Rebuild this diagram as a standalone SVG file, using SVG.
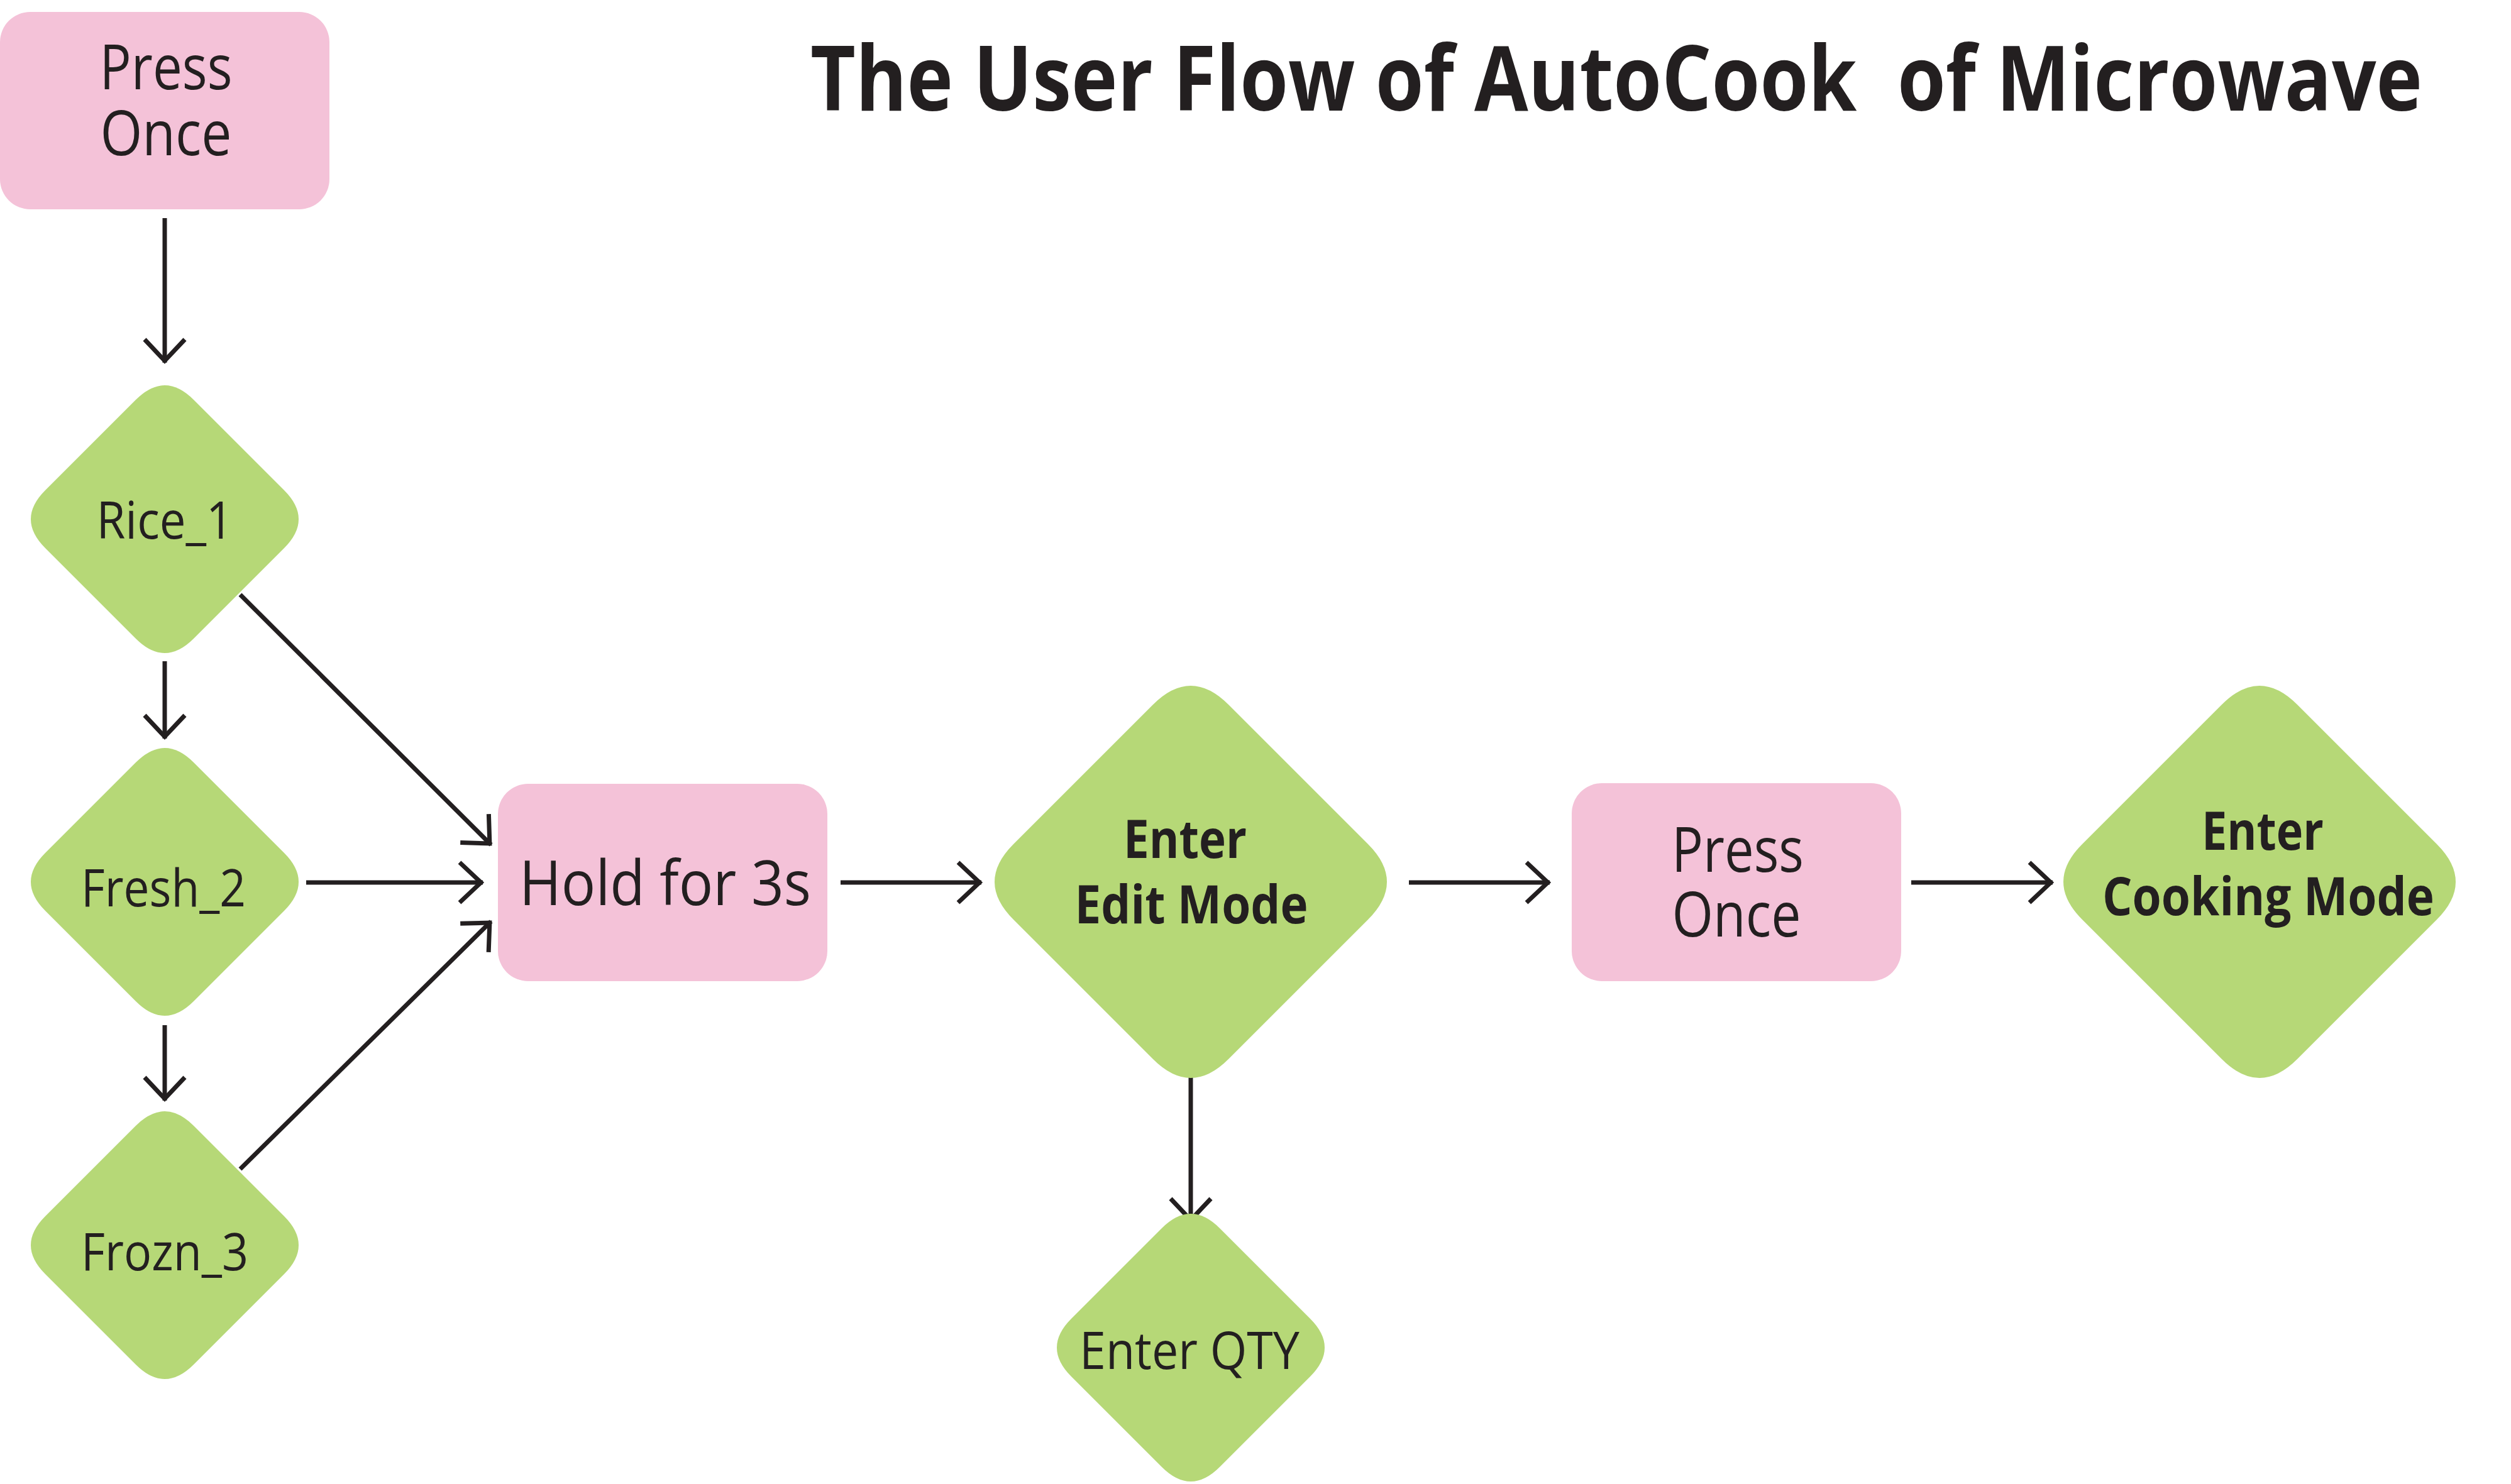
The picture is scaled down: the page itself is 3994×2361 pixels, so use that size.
<svg xmlns="http://www.w3.org/2000/svg" width="3994" height="2361" viewBox="0 0 3994 2361">
<style>
  .bg { fill: #FFFFFF; }
  .box { fill: #F4C2D8; }
  .dia { fill: #B6D877; }
  .t { font-family: "Open Sans", "Noto Sans", "Liberation Sans", sans-serif; fill: #231F20; text-anchor: middle; }
  .tb { font-weight: 700; }
  .conn { fill: none; stroke: #231F20; stroke-width: 7; marker-end: url(#ah); }
</style>
<defs>
  <marker id="ah" markerUnits="userSpaceOnUse" viewBox="-50 -45 60 90" refX="0" refY="0" markerWidth="60" markerHeight="90" orient="auto" overflow="visible">
    <path d="M-37,-32 L-3,0 L-37,32" fill="none" stroke="#231F20" stroke-width="7"/>
  </marker>
</defs>
<rect class="bg" x="0" y="0" width="3994" height="2361"/>

<g id="title">
  <text class="t tb" transform="translate(2571,176) scale(1,1.135)" x="0" y="0" font-size="126" textLength="2564" lengthAdjust="spacingAndGlyphs" xml:space="preserve">The User Flow of AutoCook  of Microwave</text>
</g>

<g id="connectors">
  <line class="conn" x1="262" y1="347" x2="262" y2="577"/>
  <line class="conn" x1="262" y1="1052" x2="262" y2="1175"/>
  <line class="conn" x1="262" y1="1631" x2="262" y2="1751"/>
  <line class="conn" x1="382" y1="946" x2="781" y2="1344"/>
  <line class="conn" x1="487" y1="1404" x2="768" y2="1404"/>
  <line class="conn" x1="382" y1="1860" x2="781" y2="1466"/>
  <line class="conn" x1="1337" y1="1404" x2="1561" y2="1404"/>
  <line class="conn" x1="2241" y1="1404" x2="2465" y2="1404"/>
  <line class="conn" x1="3040" y1="1404" x2="3265" y2="1404"/>
  <line class="conn" x1="1894" y1="1714" x2="1894" y2="1944"/>
</g>

<g id="press-once-1">
  <rect class="box" x="0" y="19" width="524" height="314" rx="48" ry="48"/>
  <text class="t" font-size="98"><tspan x="264" y="142" textLength="211" lengthAdjust="spacingAndGlyphs">Press</tspan><tspan x="264" y="247" textLength="209" lengthAdjust="spacingAndGlyphs">Once</tspan></text>
</g>

<g id="rice-1">
  <path class="dia" d="M216,636 Q262,590 308,636 L452,780 Q498,826 452,872 L308,1016 Q262,1062 216,1016 L72,872 Q26,826 72,780 Z"/>
  <text class="t" x="262" y="857" font-size="82" textLength="217" lengthAdjust="spacingAndGlyphs">Rice_1</text>
</g>

<g id="fresh-2">
  <path class="dia" d="M216,1213 Q262,1167 308,1213 L452,1357 Q498,1403 452,1449 L308,1593 Q262,1639 216,1593 L72,1449 Q26,1403 72,1357 Z"/>
  <text class="t" x="260" y="1442" font-size="82" textLength="262" lengthAdjust="spacingAndGlyphs">Fresh_2</text>
</g>

<g id="frozn-3">
  <path class="dia" d="M216,1791 Q262,1745 308,1791 L452,1935 Q498,1981 452,2027 L308,2171 Q262,2217 216,2171 L72,2027 Q26,1981 72,1935 Z"/>
  <text class="t" x="262" y="2021" font-size="82" textLength="266" lengthAdjust="spacingAndGlyphs">Frozn_3</text>
</g>

<g id="hold-3s">
  <rect class="box" x="792" y="1247" width="524" height="314" rx="48" ry="48"/>
  <text class="t" x="1058" y="1440" font-size="99" textLength="464" lengthAdjust="spacingAndGlyphs">Hold for 3s</text>
</g>

<g id="edit-mode">
  <path class="dia" d="M1834,1121 Q1894,1061 1954,1121 L2176,1343 Q2236,1403 2176,1463 L1954,1685 Q1894,1745 1834,1685 L1612,1463 Q1552,1403 1612,1343 Z"/>
  <text class="t tb" font-size="85"><tspan x="1885" y="1365" textLength="196" lengthAdjust="spacingAndGlyphs">Enter</tspan><tspan x="1895" y="1469" textLength="371" lengthAdjust="spacingAndGlyphs">Edit Mode</tspan></text>
</g>

<g id="enter-qty">
  <path class="dia" d="M1848,1954 Q1894,1908 1940,1954 L2084,2098 Q2130,2144 2084,2190 L1940,2334 Q1894,2380 1848,2334 L1704,2190 Q1658,2144 1704,2098 Z"/>
  <text class="t" x="1892" y="2178" font-size="82" textLength="350" lengthAdjust="spacingAndGlyphs">Enter QTY</text>
</g>

<g id="press-once-2">
  <rect class="box" x="2500" y="1246" width="524" height="315" rx="48" ry="48"/>
  <text class="t" font-size="98"><tspan x="2764" y="1387" textLength="210" lengthAdjust="spacingAndGlyphs">Press</tspan><tspan x="2762" y="1490" textLength="205" lengthAdjust="spacingAndGlyphs">Once</tspan></text>
</g>

<g id="cooking-mode">
  <path class="dia" d="M3534,1121 Q3594,1061 3654,1121 L3876,1343 Q3936,1403 3876,1463 L3654,1685 Q3594,1745 3534,1685 L3312,1463 Q3252,1403 3312,1343 Z"/>
  <text class="t tb" font-size="85"><tspan x="3599" y="1352" textLength="194" lengthAdjust="spacingAndGlyphs">Enter</tspan><tspan x="3608" y="1456" textLength="528" lengthAdjust="spacingAndGlyphs">Cooking Mode</tspan></text>
</g>
</svg>
